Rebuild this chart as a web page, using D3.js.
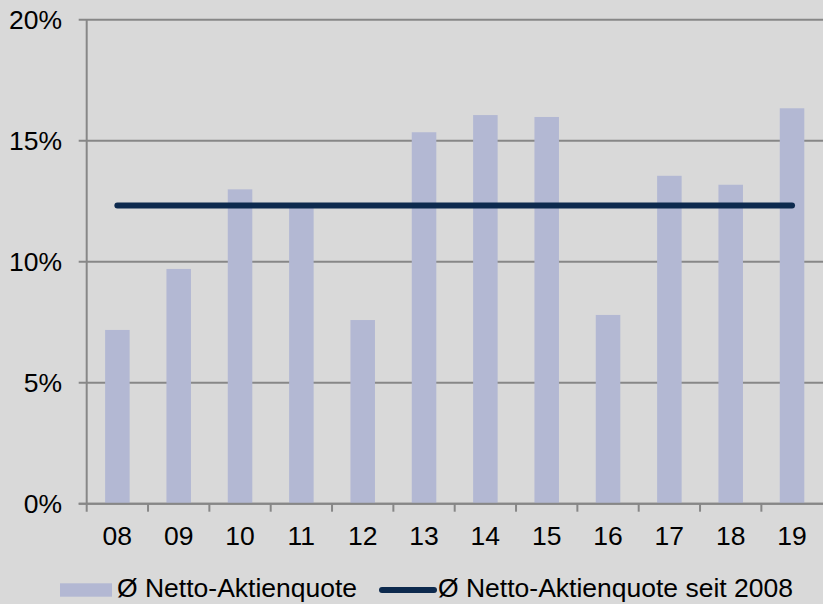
<!DOCTYPE html>
<html>
<head>
<meta charset="utf-8">
<script src="https://cdn.jsdelivr.net/npm/d3@7"></script>
<style>
  body { margin: 0; background: #d9d9d9; }
  text { font-family: "Liberation Sans", Arial, sans-serif; }
</style>
</head>
<body>
<script>
// data
const years = ["08", "09", "10", "11", "12", "13", "14", "15", "16", "17", "18", "19"];
const quote = [7.18, 9.70, 12.99, 12.3, 7.59, 15.35, 16.06, 15.98, 7.80, 13.55, 13.18, 16.34];
const avgSince2008 = 12.32;
const yTicks = [0, 5, 10, 15, 20];
const legendLabels = ["Ø Netto-Aktienquote", "Ø Netto-Aktienquote seit 2008"];

const W = 823, H = 604;
const margin = {top: 19.7, right: 0, bottom: 100.3, left: 86.7};
const plotRight = 86.7 + 736;
const fs = "26.5px";

const svg = d3.select("body").append("svg")
    .attr("width", W)
    .attr("height", H);

svg.append("rect").attr("width", W).attr("height", H).attr("fill", "#d9d9d9");

const y = d3.scaleLinear().domain([0, 20]).range([H - margin.bottom, margin.top]);

// bars
const x = d3.scaleBand().domain(years).range([margin.left, plotRight])
    .paddingInner(0.6).paddingOuter(0.3);
// category slots (for ticks + labels)
const xs = d3.scaleBand().domain(years).range([margin.left, plotRight]);

const grid = "#878787";

// gridlines + y ticks
svg.append("g").selectAll("line")
    .data(yTicks)
    .join("line")
    .attr("x1", margin.left - 8)
    .attr("x2", W)
    .attr("y1", d => y(d))
    .attr("y2", d => y(d))
    .attr("stroke", grid)
    .attr("stroke-width", 2);

svg.append("g").selectAll("text")
    .data(yTicks)
    .join("text")
    .attr("x", 62)
    .attr("y", d => y(d))
    .attr("dy", "0.36em")
    .attr("text-anchor", "end")
    .style("font-size", fs)
    .attr("fill", "#000")
    .text(d => d + "%");

// bars
svg.append("g").selectAll("rect")
    .data(quote)
    .join("rect")
    .attr("x", (d, i) => x(years[i]))
    .attr("width", x.bandwidth())
    .attr("y", d => y(d))
    .attr("height", d => y(0) - y(d))
    .attr("fill", "#b3b8d3");

// y axis line
svg.append("line")
    .attr("x1", margin.left).attr("x2", margin.left)
    .attr("y1", y(20)).attr("y2", y(0) + 8)
    .attr("stroke", grid).attr("stroke-width", 2);

// x axis line + ticks at slot boundaries
svg.append("line")
    .attr("x1", margin.left - 8).attr("x2", W)
    .attr("y1", y(0)).attr("y2", y(0))
    .attr("stroke", grid).attr("stroke-width", 2);

svg.append("g").selectAll("line")
    .data(years.slice(1))
    .join("line")
    .attr("x1", d => xs(d)).attr("x2", d => xs(d))
    .attr("y1", y(0)).attr("y2", y(0) + 8)
    .attr("stroke", grid).attr("stroke-width", 2);

svg.append("g").selectAll("text")
    .data(years)
    .join("text")
    .attr("x", d => xs(d) + xs.bandwidth() / 2)
    .attr("y", 545)
    .attr("text-anchor", "middle")
    .style("font-size", fs)
    .text(d => d);

// average line, bar centre of first to bar centre of last
svg.append("line")
    .attr("x1", x(years[0]) + x.bandwidth() / 2)
    .attr("x2", x(years[years.length - 1]) + x.bandwidth() / 2)
    .attr("y1", y(avgSince2008)).attr("y2", y(avgSince2008))
    .attr("stroke", "#0d2a4e")
    .attr("stroke-width", 6)
    .attr("stroke-linecap", "round");

// legend
const lg = svg.append("g");
lg.append("rect")
    .attr("x", 60).attr("y", 583.3)
    .attr("width", 52).attr("height", 13.4)
    .attr("fill", "#b3b8d3");
lg.append("text")
    .attr("x", 117).attr("y", 597)
    .style("font-size", fs)
    .text(legendLabels[0]);
lg.append("line")
    .attr("x1", 382).attr("x2", 434)
    .attr("y1", 590).attr("y2", 590)
    .attr("stroke", "#0d2a4e")
    .attr("stroke-width", 6)
    .attr("stroke-linecap", "round");
lg.append("text")
    .attr("x", 438).attr("y", 597)
    .style("font-size", fs)
    .text(legendLabels[1]);
</script>
</body>
</html>
